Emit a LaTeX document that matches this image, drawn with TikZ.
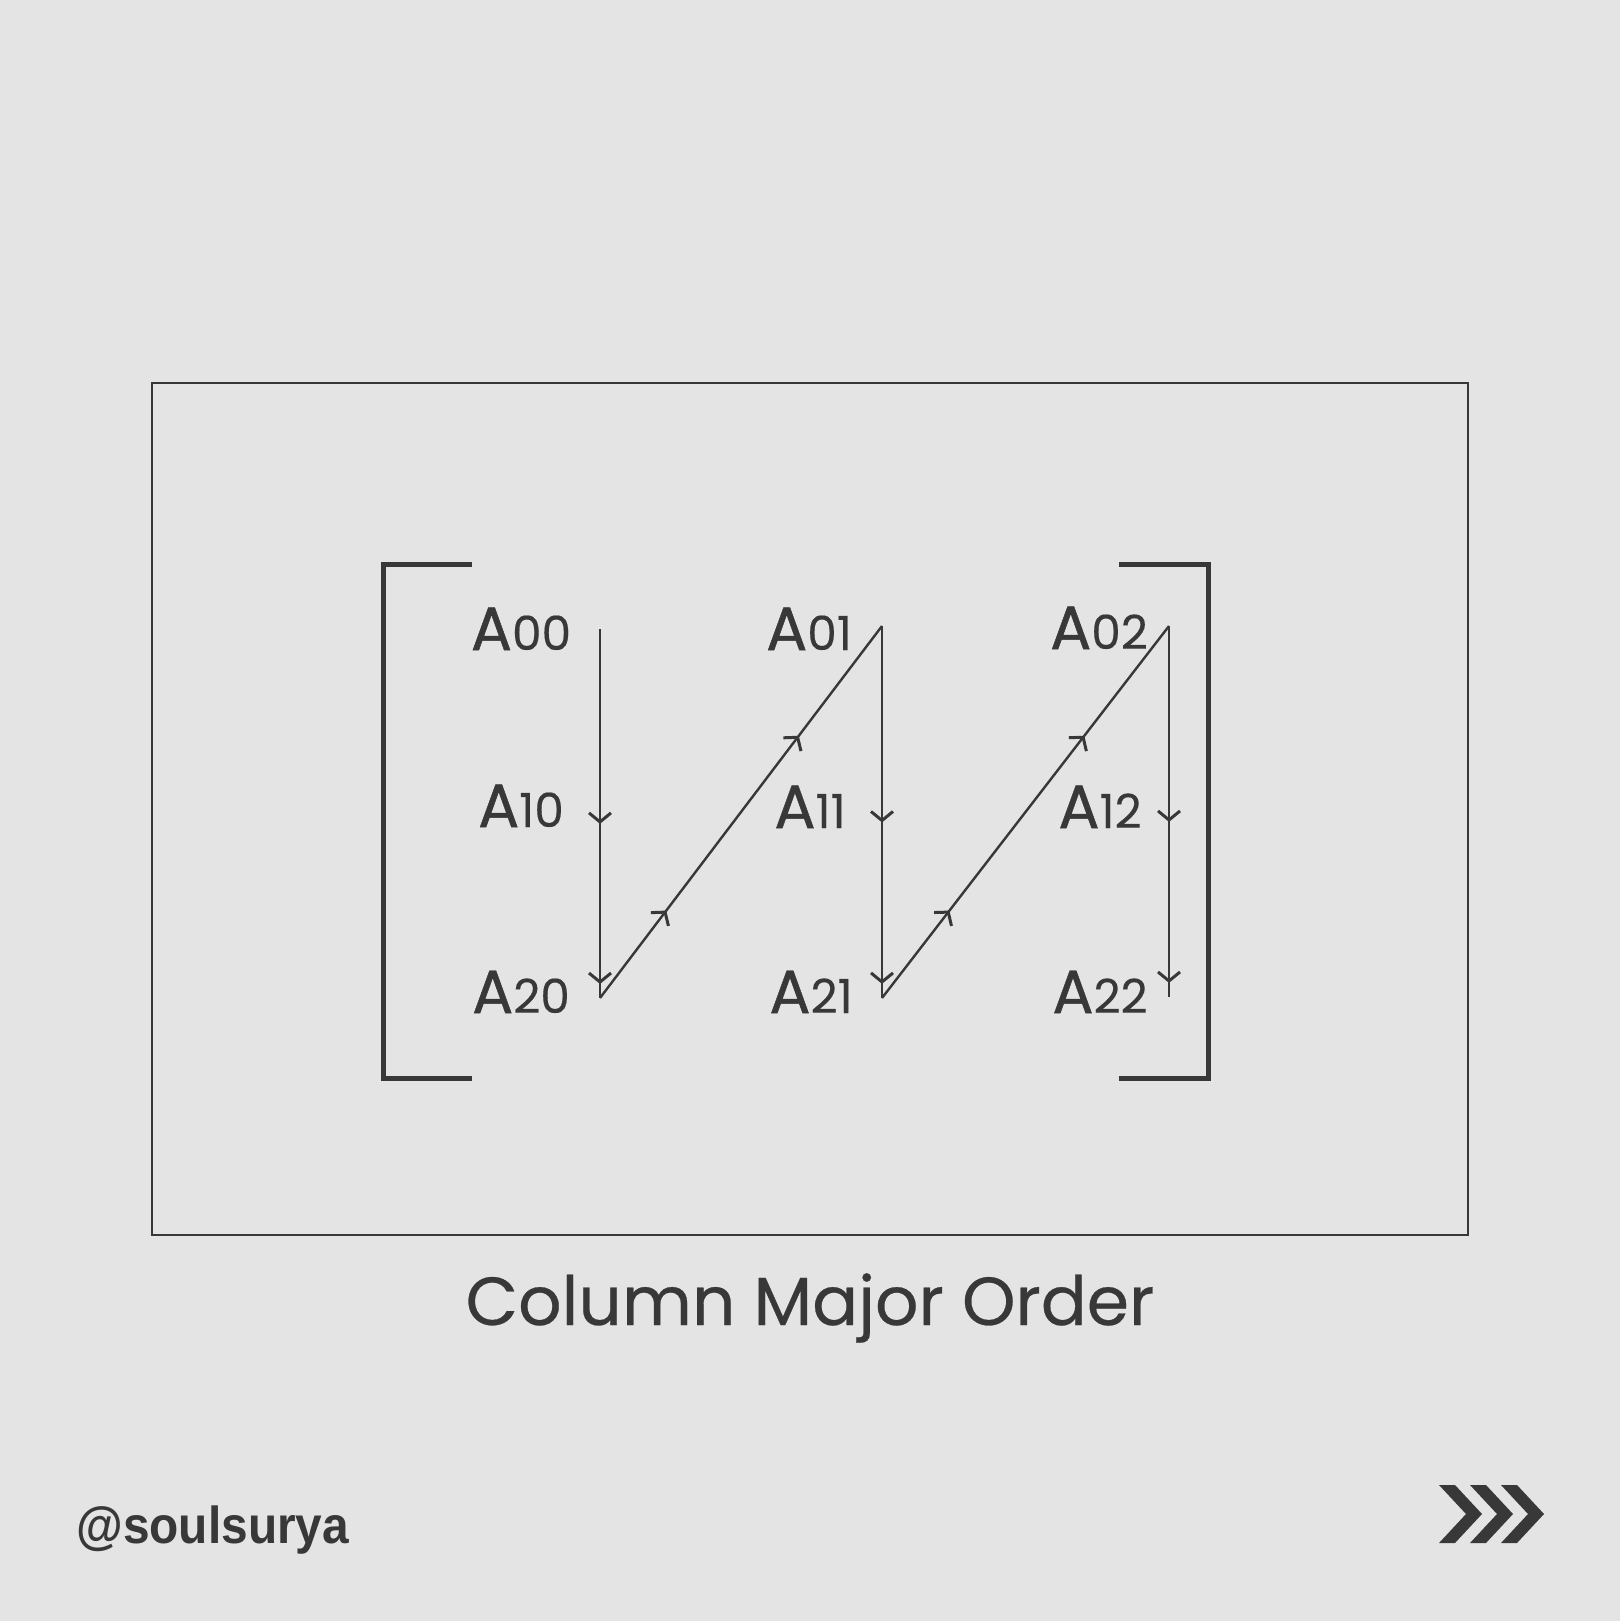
\documentclass[tikz,border=0pt]{standalone}
\usepackage{fontspec}
\setmainfont{Poppins}
\newfontfamily\handlefont{Liberation Sans}
\newfontfamily\popA{Poppins}[FakeBold=0.8]
\newfontfamily\popD{Poppins}[FakeBold=0.3]
\usetikzlibrary{decorations.markings,arrows.meta}
\definecolor{bg}{HTML}{E4E4E4}
\definecolor{ink}{HTML}{383838}
\newcommand\mlab[1]{{\popA\fontsize{30.5}{31}\selectfont A}{\popD\fontsize{23.5}{24}\selectfont #1}}
\begin{document}
\begin{tikzpicture}[x=0.5pt,y=-0.5pt,
  lbl/.style={inner sep=0pt, anchor=base, text=ink},
  barbtip/.tip={Straight Barb[length=4.5pt,width=11pt,line width=1.5pt]},
  path/.style={draw=ink, line width=1.2pt},
  vmarks/.style={path, postaction={decorate}, decoration={markings,
     mark=at position 0.528 with {\arrow{barbtip}},
     mark=at position 0.962 with {\arrow{barbtip}}}},
  dmarks/.style={path, postaction={decorate}, decoration={markings,
     mark=at position 0.235 with {\arrow{barbtip}},
     mark=at position 0.705 with {\arrow{barbtip}}}},
  bracket/.style={draw=ink, line width=2.5pt},
  chev/.style={fill=ink}]
\fill[bg] (0,0) rectangle (1620,1621);
\useasboundingbox (0,0) rectangle (1620,1621);
% frame
\draw[ink, line width=0.6pt] (152,383) rectangle (1468,1235);
% brackets
\draw[bracket] (472,564) -- (383,564) -- (383,1078) -- (472,1078);
\draw[bracket] (1119,564) -- (1208,564) -- (1208,1078) -- (1119,1078);
% labels
\node[lbl] (a00) at (521,650) {\mlab{00}};
\node[lbl] (a10) at (521,827) {\mlab{10}};
\node[lbl] (a20) at (521,1013) {\mlab{20}};
\node[lbl] (a01) at (809,650) {\mlab{01}};
\node[lbl] (a11) at (810,828) {\mlab{11}};
\node[lbl] (a21) at (811,1013) {\mlab{21}};
\node[lbl] (a02) at (1099,649) {\mlab{02}};
\node[lbl] (a12) at (1100,828) {\mlab{12}};
\node[lbl] (a22) at (1100,1013) {\mlab{22}};
% path vertices
\coordinate (t0) at (600,629);
\coordinate (b0) at (600,998);
\coordinate (t1) at (882,626);
\coordinate (b1) at (882,998);
\coordinate (t2) at (1169,626);
\coordinate (b2) at (1169,997);
\draw[vmarks] (t0) -- (b0);
\draw[dmarks] (b0) -- (t1);
\draw[vmarks] (t1) -- (b1);
\draw[dmarks] (b1) -- (t2);
\draw[vmarks] (t2) -- (b2);
% title
\node[lbl] (title) at (810,1325) {\addfontfeature{FakeBold=0.4}\fontsize{34}{34}\selectfont Column Major Order};
% handle
\node[inner sep=0pt, anchor=base west, text=ink] (handle) at (76,1543)
  {\scalebox{0.92}[1]{\handlefont\bfseries\fontsize{26}{26}\selectfont @soulsurya}};
% chevrons
\foreach \x in {1439,1470,1501}
  \fill[chev] (\x,1485) -- ++(16,0) -- ++(27,29) -- ++(-27,29) -- ++(-16,0) -- ++(27,-29) -- cycle;
\end{tikzpicture}
\end{document}
